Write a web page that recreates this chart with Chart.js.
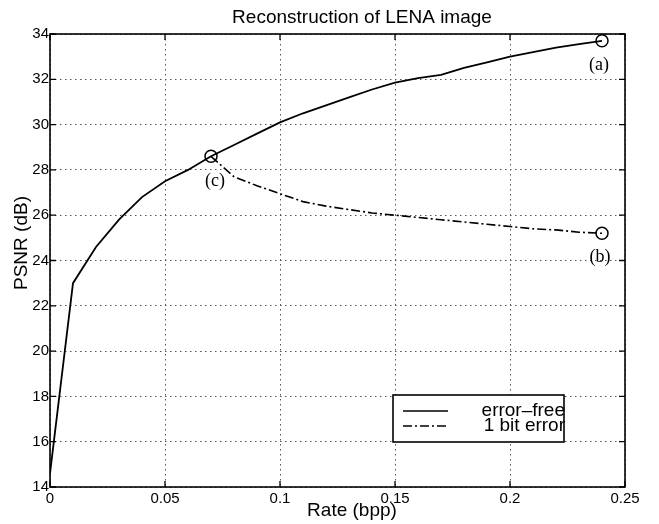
<!DOCTYPE html>
<html>
<head>
<meta charset="utf-8">
<script src="https://cdn.jsdelivr.net/npm/chart.js@4/dist/chart.umd.min.js"></script>
<style>
  html, body { margin: 0; padding: 0; background: #fff; }
  canvas { display: block; }
</style>
</head>
<body>
<canvas id="myChart" width="659" height="524"></canvas>
<script>
// rate-distortion curves
const rates = [0, 0.01, 0.02, 0.03, 0.04, 0.05, 0.06, 0.07, 0.08, 0.09, 0.1, 0.11, 0.12,
    0.13, 0.14, 0.15, 0.16, 0.17, 0.18, 0.19, 0.2, 0.21, 0.22, 0.23, 0.24];
const errorFree = [14.6, 23.0, 24.6, 25.8, 26.8, 27.5, 28.0, 28.6, 29.1, 29.6, 30.1, 30.5, 30.85,
    31.2, 31.55, 31.85, 32.05, 32.2, 32.5, 32.75, 33.0, 33.2, 33.4, 33.55, 33.7];
const errorRates = [0.07, 0.08, 0.09, 0.1, 0.11, 0.12, 0.13, 0.14, 0.15, 0.16,
    0.17, 0.18, 0.19, 0.2, 0.21, 0.22, 0.23, 0.24];
const oneBitError = [28.6, 27.7, 27.3, 26.95, 26.6, 26.4, 26.25, 26.1, 26.0, 25.9,
    25.8, 25.7, 25.6, 25.5, 25.4, 25.35, 25.25, 25.2];
const markerRates = [0.24, 0.24, 0.07];
const markerPsnr = [33.7, 25.2, 28.6];
const markerLabels = ['(a)', '(b)', '(c)'];
const seriesNames = ['error\u2013free', '1 bit error'];

const SANS = '"Liberation Sans", Arial, Helvetica, sans-serif';
const SERIF = '"Liberation Serif", "Times New Roman", serif';
const dashDot = [9, 3, 2, 3];

function pairs(xs, ys) {
    return xs.map((x, i) => ({ x: x, y: ys[i] }));
}

// matlab style frame, inward ticks, annotations, legend and titles
const matlabPlugin = {
    id: 'matlab',
    beforeDatasetsDraw(chart) {
        const ctx = chart.ctx;
        const a = chart.chartArea;
        const xs = chart.scales.x, ys = chart.scales.y;
        ctx.save();
        ctx.strokeStyle = '#000';
        ctx.lineWidth = 1.6;
        ctx.setLineDash([]);
        ctx.strokeRect(a.left, a.top, a.right - a.left, a.bottom - a.top);
        ctx.lineWidth = 1.3;
        ctx.beginPath();
        const len = 6;
        xs.ticks.forEach(t => {
            const px = xs.getPixelForValue(t.value);
            ctx.moveTo(px, a.bottom); ctx.lineTo(px, a.bottom - len);
            ctx.moveTo(px, a.top); ctx.lineTo(px, a.top + len);
        });
        ys.ticks.forEach(t => {
            const py = ys.getPixelForValue(t.value);
            ctx.moveTo(a.left, py); ctx.lineTo(a.left + len, py);
            ctx.moveTo(a.right, py); ctx.lineTo(a.right - len, py);
        });
        ctx.stroke();
        ctx.restore();
    },
    afterDatasetsDraw(chart) {
        const ctx = chart.ctx;
        const xs = chart.scales.x, ys = chart.scales.y;
        ctx.save();
        ctx.fillStyle = '#000';

        // (a) (b) (c) under the markers
        const offsets = { '(a)': [-3, 24], '(b)': [-2, 24], '(c)': [4, 25] };
        ctx.font = '18px ' + SERIF;
        ctx.textAlign = 'center';
        ctx.textBaseline = 'middle';
        markerLabels.forEach((lab, i) => {
            const px = xs.getPixelForValue(markerRates[i]);
            const py = ys.getPixelForValue(markerPsnr[i]);
            const o = offsets[lab];
            ctx.fillText(lab, px + o[0], py + o[1]);
        });

        // legend box
        const bx = 393, by = 395, bw = 171, bh = 47;
        ctx.fillStyle = '#fff';
        ctx.fillRect(bx, by, bw, bh);
        ctx.strokeStyle = '#000';
        ctx.lineWidth = 1.6;
        ctx.strokeRect(bx, by, bw, bh);
        [[], dashDot].forEach((dash, i) => {
            const y = by + 16 + i * 15;
            ctx.setLineDash(dash);
            ctx.beginPath();
            ctx.moveTo(bx + 10, y);
            ctx.lineTo(bx + 55, y);
            ctx.stroke();
        });
        ctx.setLineDash([]);
        ctx.fillStyle = '#000';
        ctx.font = '19px ' + SANS;
        ctx.textAlign = 'right';
        seriesNames.forEach((name, i) => {
            ctx.fillText(name, bx + bw + 1, by + 16 + i * 15);
        });
        ctx.restore();
    },
    afterDraw(chart) {
        const ctx = chart.ctx;
        ctx.save();
        ctx.fillStyle = '#000';
        ctx.textBaseline = 'middle';
        ctx.textAlign = 'center';
        ctx.font = '19px ' + SANS;
        ctx.fillText('Reconstruction of LENA image', 362, 18);
        ctx.fillText('Rate (bpp)', 352, 511);
        ctx.translate(22, 243);
        ctx.rotate(-Math.PI / 2);
        ctx.fillText('PSNR (dB)', 0, 0);
        ctx.restore();
    }
};

const config = {
    type: 'line',
    data: {
        datasets: [{
            label: seriesNames[0],
            data: pairs(rates, errorFree),
            borderColor: '#000',
            borderWidth: 1.8,
            pointRadius: 0,
            tension: 0,
            order: 2
        }, {
            label: seriesNames[1],
            data: pairs(errorRates, oneBitError),
            borderColor: '#000',
            borderWidth: 1.6,
            borderDash: dashDot,
            pointRadius: 0,
            tension: 0,
            order: 2
        }, {
            type: 'scatter',
            label: 'markers',
            data: pairs(markerRates, markerPsnr),
            showLine: false,
            pointStyle: 'circle',
            pointRadius: 6,
            pointBorderWidth: 1.5,
            pointBorderColor: '#000',
            pointBackgroundColor: 'rgba(0,0,0,0)',
            order: 1
        }]
    },
    options: {
        responsive: false,
        animation: false,
        layout: { padding: { left: 0, right: 34, top: 34, bottom: 0 } },
        plugins: {
            legend: { display: false },
            tooltip: { enabled: false }
        },
        scales: {
            x: {
                type: 'linear',
                min: 0,
                max: 0.25,
                afterFit(scale) { scale.height = 37; },
                ticks: {
                    stepSize: 0.05,
                    padding: 3,
                    color: '#000',
                    font: { family: SANS, size: 15 },
                    maxRotation: 0,
                    callback: v => String(+v.toFixed(2))
                },
                grid: { color: '#555', lineWidth: 1, drawTicks: false, tickLength: 0 },
                border: { display: false, dash: [1.5, 3.5] }
            },
            y: {
                type: 'linear',
                min: 14,
                max: 34,
                afterFit(scale) { scale.width = 50; },
                ticks: {
                    stepSize: 2,
                    padding: 1,
                    color: '#000',
                    font: { family: SANS, size: 15 }
                },
                grid: { color: '#555', lineWidth: 1, drawTicks: false, tickLength: 0 },
                border: { display: false, dash: [1.5, 3.5] }
            }
        }
    },
    plugins: [matlabPlugin]
};

new Chart(document.getElementById('myChart'), config);
</script>
</body>
</html>
